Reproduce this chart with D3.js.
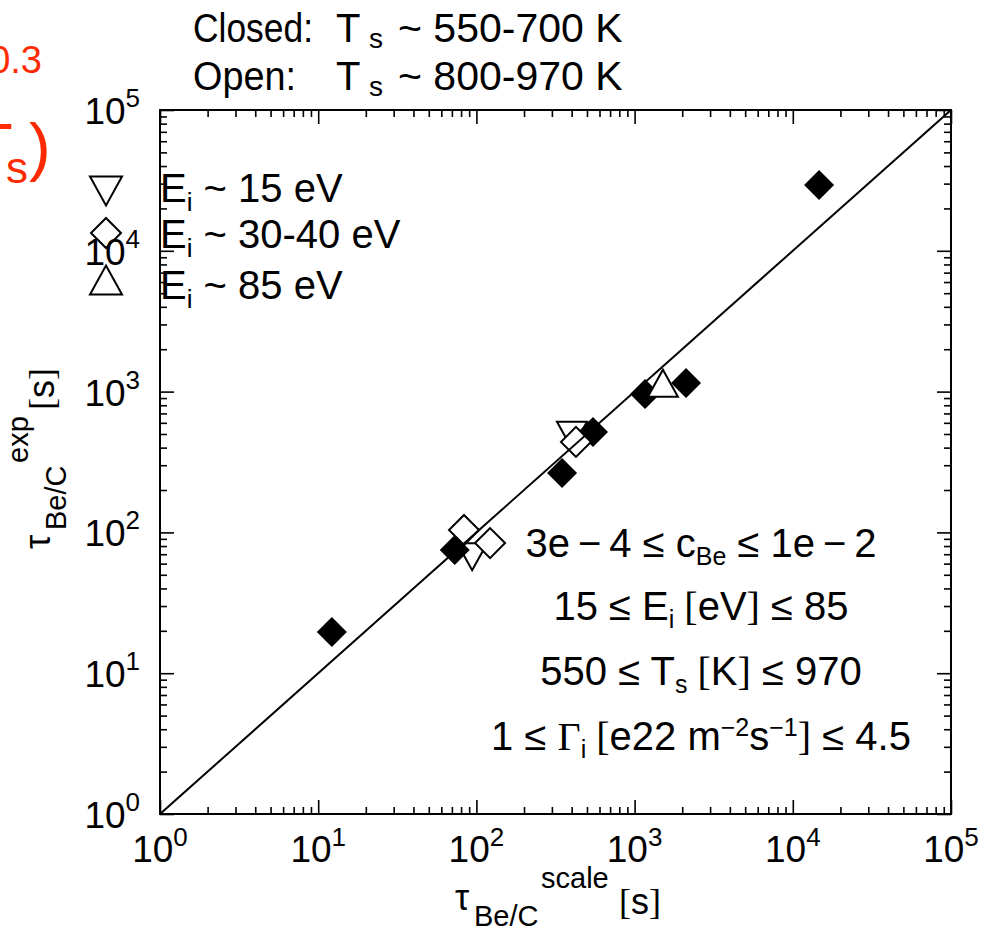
<!DOCTYPE html>
<html>
<head>
<meta charset="utf-8">
<script src="https://cdn.jsdelivr.net/npm/d3@7"></script>
<style>
  body { margin: 0; background: #fff; }
  text { font-family: "Liberation Sans", Arial, Helvetica, sans-serif; fill: #000; }
  .serif { font-family: "Liberation Serif", "Times New Roman", serif; }
</style>
</head>
<body>
<div id="chart"></div>
<script>
// values (tau_scale [s], tau_exp [s])
var filledX = [12.2, 73, 348, 546, 1164, 2114, 14650]
var filledY = [19.6, 75, 264, 516, 962, 1151, 29300]
var openX = [83.5, 122, 426]
var openY = [104, 84, 439]
var downX = [94, 402]
var downY = [71.4, 520]
var upX = [1510]
var upY = [1080]
var decades = [0, 1, 2, 3, 4, 5]
var legendLabels = ["15 eV", "30-40 eV", "85 eV"]

var W = 994, H = 932
var margin = {left: 160, top: 110, right: 43, bottom: 118}
var width = W - margin.left - margin.right,
    height = H - margin.top - margin.bottom

var svg = d3.select("#chart").append("svg")
    .attr("width", W)
    .attr("height", H)

var g = svg.append("g")
    .attr("transform", "translate(" + margin.left + "," + margin.top + ")")

var x = d3.scaleLog().domain([1, 1e5]).range([0, width])
var y = d3.scaleLog().domain([1, 1e5]).range([height, 0])

var majors = decades.map(function(d) { return Math.pow(10, d) })
var minors = []
decades.slice(0, 5).forEach(function(d) {
  for (var k = 2; k <= 9; k++) minors.push(k * Math.pow(10, d))
})

// ticks inward on all four sides
function tickAxis(axisFn, scale, vals, size, transform) {
  g.append("g")
    .attr("transform", transform)
    .call(axisFn(scale).tickValues(vals).tickSize(size).tickSizeOuter(0).tickFormat(""))
    .call(function(s) { s.select(".domain").remove() })
    .selectAll("line").attr("stroke", "#000").attr("stroke-width", 1.6)
}
tickAxis(d3.axisBottom, x, majors, -14, "translate(0," + height + ")")
tickAxis(d3.axisBottom, x, minors, -7, "translate(0," + height + ")")
tickAxis(d3.axisTop, x, majors, -14, "translate(0,0)")
tickAxis(d3.axisTop, x, minors, -7, "translate(0,0)")
tickAxis(d3.axisLeft, y, majors, -14, "translate(0,0)")
tickAxis(d3.axisLeft, y, minors, -7, "translate(0,0)")
tickAxis(d3.axisRight, y, majors, -14, "translate(" + width + ",0)")
tickAxis(d3.axisRight, y, minors, -7, "translate(" + width + ",0)")

// frame
g.append("rect")
  .attr("width", width).attr("height", height)
  .attr("fill", "none").attr("stroke", "#000").attr("stroke-width", 2)

// tick labels 10^n
var xl = g.selectAll(".xlab").data(decades).enter().append("text")
  .attr("class", "xlab")
  .attr("x", function(d) { return x(Math.pow(10, d)) })
  .attr("y", height + 48)
  .attr("text-anchor", "middle")
  .style("font-size", "37px")
xl.append("tspan").text("10")
xl.append("tspan").attr("dy", -16).style("font-size", "26px").text(function(d) { return d })

var yl = g.selectAll(".ylab").data(decades).enter().append("text")
  .attr("class", "ylab")
  .attr("x", -20)
  .attr("y", function(d) { return y(Math.pow(10, d)) + 14 })
  .attr("text-anchor", "end")
  .style("font-size", "37px")
yl.append("tspan").text("10")
yl.append("tspan").attr("dy", -17).style("font-size", "26px").text(function(d) { return d })

// markers
var sym = d3.symbol().type(d3.symbolSquare).size(450)
function tri(down, r) {
  var p = d3.path()
  if (down) { p.moveTo(-r, -r * 0.65); p.lineTo(r, -r * 0.65); p.lineTo(0, r * 1.15) }
  else { p.moveTo(0, -r * 1.15); p.lineTo(r, r * 0.65); p.lineTo(-r, r * 0.65) }
  p.closePath()
  return p.toString()
}

g.selectAll(".down").data(downX).enter().append("path")
  .attr("d", tri(true, 15))
  .attr("transform", function(d, i) { return "translate(" + x(d) + "," + y(downY[i]) + ")" })
  .attr("fill", "#fff").attr("stroke", "#000").attr("stroke-width", 2)

g.selectAll(".filled").data(filledX).enter().append("path")
  .attr("d", sym)
  .attr("transform", function(d, i) { return "translate(" + x(d) + "," + y(filledY[i]) + ") rotate(45)" })
  .attr("fill", "#000")

g.selectAll(".open").data(openX).enter().append("path")
  .attr("d", sym)
  .attr("transform", function(d, i) { return "translate(" + x(d) + "," + y(openY[i]) + ") rotate(45)" })
  .attr("fill", "#fff").attr("stroke", "#000").attr("stroke-width", 2)

g.selectAll(".up").data(upX).enter().append("path")
  .attr("d", tri(false, 15))
  .attr("transform", function(d, i) { return "translate(" + x(d) + "," + y(upY[i]) + ")" })
  .attr("fill", "#fff").attr("stroke", "#000").attr("stroke-width", 2)

// 1:1 line
g.append("line")
  .attr("x1", x(1)).attr("y1", y(1))
  .attr("x2", x(1e5)).attr("y2", y(1e5))
  .attr("stroke", "#000").attr("stroke-width", 2)

// legend
var legMarks = [tri(true, 16), sym(), tri(false, 16)]
var legY = [187, 233, 284]
legendLabels.forEach(function(lab, i) {
  svg.append("path")
    .attr("d", legMarks[i])
    .attr("transform", "translate(106," + legY[i] + ")" + (i == 1 ? " rotate(45)" : ""))
    .attr("fill", "none").attr("stroke", "#000").attr("stroke-width", 2)
  var t = svg.append("text").attr("x", 160).attr("y", legY[i] + 15).style("font-size", "40px")
  t.append("tspan").text("E")
  t.append("tspan").attr("dy", 9).style("font-size", "26px").text("i")
  t.append("tspan").attr("dy", -9).text(" ~ " + lab)
})

// title lines
function titleLine(lead, leadLen, rest, yy) {
  var t = svg.append("text").attr("x", 193).attr("y", yy).style("font-size", "40px")
  t.append("tspan").attr("textLength", leadLen).attr("lengthAdjust", "spacingAndGlyphs").text(lead)
  t.append("tspan").attr("x", 336).text("T")
  t.append("tspan").attr("x", 369).attr("dy", 6).style("font-size", "28px").text("s")
  t.append("tspan").attr("x", 398).attr("dy", -6).style("font-size", "41px").text(rest)
}
titleLine("Closed:", 120, "~ 550-700 K", 42)
titleLine("Open:", 103, "~ 800-970 K", 90)

// range annotations
var cx = 701, fs = "40px", sub = "25px"
var a1 = svg.append("text").attr("x", cx).attr("y", 557).attr("text-anchor", "middle").style("font-size", fs)
a1.append("tspan").text("3e\u2009\u2212\u20094 \u2264 c")
a1.append("tspan").attr("dy", 8).style("font-size", sub).text("Be")
a1.append("tspan").attr("dy", -8).text(" \u2264 1e\u2009\u2212\u20092")

var a2 = svg.append("text").attr("x", cx).attr("y", 620).attr("text-anchor", "middle").style("font-size", fs)
a2.append("tspan").text("15 \u2264 E")
a2.append("tspan").attr("dy", 8).style("font-size", sub).text("i")
a2.append("tspan").attr("dy", -8).attr("class", "serif").text(" [")
a2.append("tspan").text("eV")
a2.append("tspan").attr("class", "serif").text("]")
a2.append("tspan").text(" \u2264 85")

var a3 = svg.append("text").attr("x", cx).attr("y", 685).attr("text-anchor", "middle").style("font-size", fs)
a3.append("tspan").text("550 \u2264 T")
a3.append("tspan").attr("dy", 8).style("font-size", sub).text("s")
a3.append("tspan").attr("dy", -8).attr("class", "serif").text(" [")
a3.append("tspan").text("K")
a3.append("tspan").attr("class", "serif").text("]")
a3.append("tspan").text(" \u2264 970")

var a4 = svg.append("text").attr("x", cx).attr("y", 750).attr("text-anchor", "middle").style("font-size", fs)
a4.append("tspan").text("1 \u2264 ")
a4.append("tspan").attr("class", "serif").text("\u0393")
a4.append("tspan").attr("dy", 8).style("font-size", sub).text("i")
a4.append("tspan").attr("dy", -8).attr("class", "serif").text(" [")
a4.append("tspan").text("e22 m")
a4.append("tspan").attr("dy", -14).style("font-size", sub).text("\u22122")
a4.append("tspan").attr("dy", 14).text("s")
a4.append("tspan").attr("dy", -14).style("font-size", sub).text("\u22121")
a4.append("tspan").attr("dy", 14).attr("class", "serif").text("]")
a4.append("tspan").text(" \u2264 4.5")

// axis titles: tau, subscript, superscript, unit
function axisTitle(t, supText, unitX) {
  t.append("tspan").attr("x", 0).attr("y", 0).style("font-size", "36px").text("\u03c4")
  t.append("tspan").attr("x", 19).attr("y", 16).style("font-size", "29px").text("Be/C")
  t.append("tspan").attr("x", 86).attr("y", -22).style("font-size", "29px").text(supText)
  t.append("tspan").attr("x", unitX).attr("y", 4).attr("class", "serif").style("font-size", "36px").text("[")
  t.append("tspan").style("font-size", "36px").text("s")
  t.append("tspan").attr("class", "serif").style("font-size", "36px").text("]")
}
axisTitle(svg.append("text").attr("transform", "translate(455,910)"), "scale", 164)
axisTitle(svg.append("text").attr("transform", "translate(50,549) rotate(-90)"), "exp", 139)

// cut-off red text at the left edge
var red = "#ff2a00"
svg.append("text").attr("x", 42).attr("y", 73).attr("text-anchor", "end")
  .style("font-size", "38px").style("fill", red).text("0.3")
svg.append("text").attr("x", -27).attr("y", 169)
  .style("font-size", "65px").style("fill", red).text("T")
svg.append("text").attr("x", 6).attr("y", 183)
  .style("font-size", "44px").style("fill", red).text("s")
svg.append("text").attr("x", 29).attr("y", 169)
  .style("font-size", "65px").style("fill", red).text(")")
</script>
</body>
</html>
